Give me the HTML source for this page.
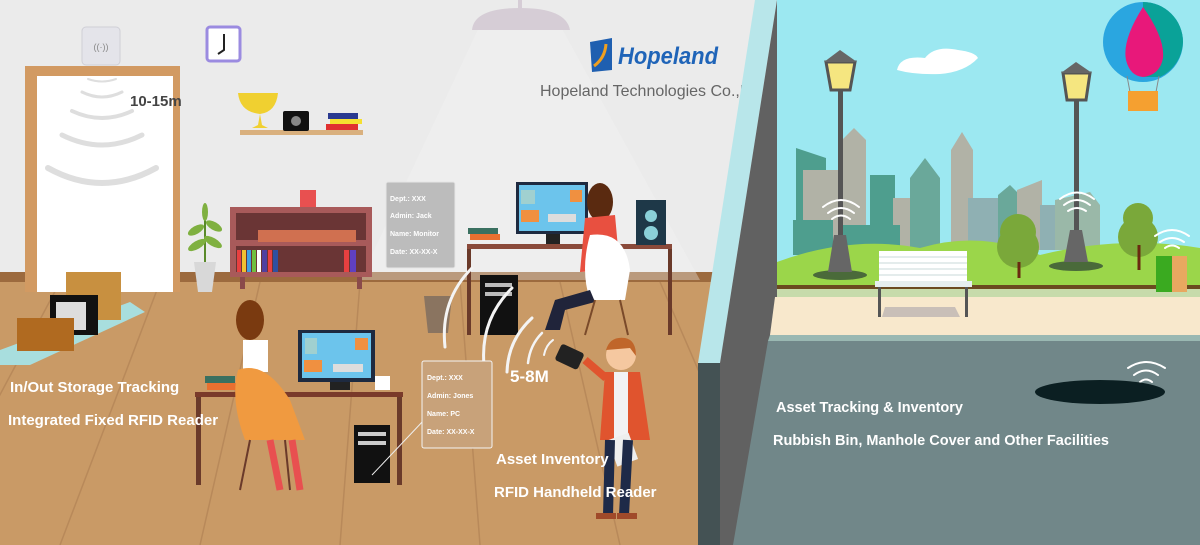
<!DOCTYPE html>
<html><head><meta charset="utf-8"><style>
html,body{margin:0;padding:0;width:1200px;height:545px;overflow:hidden;background:#ebebeb}
svg{display:block}
text{font-family:"Liberation Sans","DejaVu Sans",sans-serif}
</style></head><body>
<svg width="1200" height="545" viewBox="0 0 1200 545" xmlns="http://www.w3.org/2000/svg">
<!-- LEFT ROOM -->
<rect x="0" y="0" width="780" height="545" fill="#ebebeb"/>
<rect x="0" y="280" width="720" height="265" fill="#c99a66"/>
<g stroke="#b8895a" stroke-width="1.5">
<line x1="60" y1="282" x2="-80" y2="545"/><line x1="160" y1="282" x2="60" y2="545"/>
<line x1="260" y1="282" x2="200" y2="545"/><line x1="360" y1="282" x2="340" y2="545"/>
<line x1="460" y1="282" x2="480" y2="545"/><line x1="560" y1="282" x2="620" y2="545"/>
<line x1="660" y1="282" x2="720" y2="420"/>
</g>
<rect x="0" y="272" width="720" height="10" fill="#9c6a3e"/>
<!-- light cone -->
<polygon points="480,25 560,25 700,280 360,280" fill="#f4f4f4" opacity="0.35"/>
<path d="M472,30 Q474,8 520,8 Q566,8 570,30 Z" fill="#d6cdd6"/>
<rect x="518" y="0" width="4" height="10" fill="#d6cdd6"/>
<!-- door -->
<rect x="25" y="66" width="155" height="226" fill="#d29a62"/>
<rect x="37" y="76" width="136" height="216" fill="#ffffff"/>
<g fill="none" stroke="#dedede" stroke-linecap="round">
<path d="M88,79 Q102,84 116,79" stroke-width="2"/>
<path d="M82,92 Q102,102 122,92" stroke-width="3"/>
<path d="M72,111 Q102,125 132,111" stroke-width="4"/>
<path d="M62,135 Q102,155 142,135" stroke-width="5"/>
<path d="M48,168 Q102,198 156,168" stroke-width="6"/>
</g>
<rect x="82" y="27" width="38" height="38" rx="4" fill="#e4e4ea" stroke="#cfcfd6"/>
<text x="101" y="50" font-size="9" fill="#888" text-anchor="middle">((·))</text>
<text x="130" y="106" font-size="15" font-weight="bold" fill="#444">10-15m</text>
<!-- clock -->
<rect x="207" y="27" width="33" height="34" rx="3" fill="#fff" stroke="#9b8be0" stroke-width="3"/>
<path d="M224,34 L224,50 L218,54" stroke="#222" stroke-width="2" fill="none"/>
<!-- shelf -->
<rect x="240" y="130" width="123" height="5" fill="#d9b07e"/>
<path d="M238,93 L278,93 Q276,112 260,114 L262,125 L268,128 L252,128 L258,125 L260,114 Q240,112 238,93Z" fill="#f0d030"/>
<rect x="283" y="111" width="26" height="20" rx="2" fill="#111"/><circle cx="296" cy="121" r="5" fill="#888"/>
<rect x="328" y="113" width="30" height="6" fill="#2a3a90"/><rect x="330" y="119" width="32" height="5" fill="#f5e030"/><rect x="326" y="124" width="32" height="6" fill="#e03030"/>
<!-- logo -->
<path d="M590,42 L612,38 L612,70 L592,72 Z" fill="#1f5fb0"/><path d="M594,66 Q605,58 606,44" stroke="#f0a020" stroke-width="3" fill="none"/>
<text x="618" y="64" font-size="24" font-weight="bold" fill="#1f64b8" font-style="italic" textLength="100" lengthAdjust="spacingAndGlyphs">Hopeland</text>
<text x="540" y="96" font-size="16" fill="#666">Hopeland Technologies Co.,L</text>
<!-- plant -->
<path d="M205,205 L205,262" stroke="#5a8a2a" stroke-width="2"/>
<g fill="#7fb040"><ellipse cx="196" cy="230" rx="9" ry="4" transform="rotate(-30 196 230)"/><ellipse cx="214" cy="226" rx="9" ry="4" transform="rotate(30 214 226)"/><ellipse cx="197" cy="245" rx="10" ry="4" transform="rotate(-30 197 245)"/><ellipse cx="213" cy="242" rx="10" ry="4" transform="rotate(30 213 242)"/><ellipse cx="205" cy="212" rx="3" ry="9"/></g>
<path d="M194,262 L216,262 L212,292 L198,292Z" fill="#d8d8d8"/>
<!-- bookshelf -->
<rect x="230" y="207" width="142" height="70" fill="#a85a5a"/>
<rect x="236" y="213" width="130" height="27" fill="#6a3535"/><rect x="236" y="246" width="130" height="26" fill="#6a3535"/>
<rect x="258" y="230" width="98" height="12" fill="#d07050"/>
<g><rect x="237" y="250" width="4" height="22" fill="#e84040"/><rect x="242" y="250" width="4" height="22" fill="#f0c030"/><rect x="247" y="250" width="4" height="22" fill="#40a0e0"/><rect x="252" y="250" width="4" height="22" fill="#70c040"/><rect x="257" y="250" width="4" height="22" fill="#ffffff"/><rect x="262" y="250" width="5" height="22" fill="#5040a0"/><rect x="268" y="250" width="4" height="22" fill="#e84040"/><rect x="273" y="250" width="5" height="22" fill="#3050a0"/><rect x="344" y="250" width="5" height="22" fill="#e84040"/><rect x="350" y="250" width="6" height="22" fill="#6040c0"/></g>
<rect x="240" y="277" width="5" height="12" fill="#8a4a4a"/><rect x="357" y="277" width="5" height="12" fill="#8a4a4a"/>
<rect x="300" y="190" width="16" height="17" fill="#e85050"/>
<!-- card1 -->
<rect x="386" y="182" width="69" height="86" rx="2" fill="#bcbcbc" stroke="#e6e6e6"/>
<g font-size="7" font-weight="bold" fill="#fff"><text x="390" y="201">Dept.:  XXX</text><text x="390" y="218">Admin:  Jack</text><text x="390" y="236">Name: Monitor</text><text x="390" y="254">Date:  XX-XX-X</text></g>
<!-- right desk -->
<rect x="467" y="244" width="205" height="5" fill="#8a4a3a"/>
<rect x="467" y="249" width="4" height="86" fill="#6a3a2a"/><rect x="668" y="249" width="4" height="86" fill="#6a3a2a"/>
<rect x="516" y="182" width="72" height="52" fill="#1e2a40"/><rect x="519" y="185" width="66" height="46" fill="#6cc4ec"/>
<rect x="521" y="190" width="14" height="14" fill="#a0d0d0"/><rect x="570" y="190" width="12" height="12" fill="#f09040"/><rect x="521" y="210" width="18" height="12" fill="#f09040"/><rect x="548" y="214" width="28" height="8" fill="#ddd"/>
<rect x="546" y="234" width="14" height="10" fill="#222"/>
<rect x="468" y="228" width="30" height="6" fill="#3a7060"/><rect x="470" y="234" width="30" height="6" fill="#e87030"/>
<rect x="636" y="200" width="30" height="45" fill="#1e3848"/><circle cx="651" cy="216" r="6" fill="#8ad0d8"/><circle cx="651" cy="233" r="7" fill="#8ad0d8"/>
<!-- right person -->
<ellipse cx="600" cy="202" rx="13" ry="19" fill="#5a2a10"/>
<path d="M585,218 L615,215 L620,270 L580,272Z" fill="#e85040"/>
<path d="M590,235 Q625,230 630,270 L625,300 L590,300 Q580,270 590,235Z" fill="#ffffff"/>
<path d="M590,290 L555,300 L545,330 L560,330 L565,310 L595,302Z" fill="#20243a"/>
<path d="M595,300 L585,335 M620,300 L628,335" stroke="#7a4a2a" stroke-width="2"/>
<!-- trash & pc -->
<path d="M424,296 L452,296 L448,333 L428,333Z" fill="#8a7460"/>
<rect x="480" y="275" width="38" height="60" fill="#111"/><rect x="485" y="283" width="27" height="4" fill="#bbb"/><rect x="485" y="292" width="27" height="4" fill="#bbb"/>
<g fill="none" stroke="#f4f4f4" stroke-linecap="round"><path d="M445,347 Q440,300 472,268" stroke-width="3"/><path d="M484,365 Q480,320 512,288" stroke-width="3"/><path d="M507,372 Q508,340 532,318" stroke-width="3"/><path d="M528,363 Q530,345 542,333" stroke-width="2.5"/><path d="M544,355 Q546,345 553,340" stroke-width="2"/></g>
<!-- trolley -->
<path d="M0,350 L130,302 L145,312 L30,365 L0,365Z" fill="#a8dede"/>
<rect x="66" y="272" width="55" height="48" fill="#c89040"/>
<rect x="50" y="295" width="48" height="40" fill="#111"/><rect x="56" y="302" width="30" height="28" fill="#ddd"/>
<rect x="17" y="318" width="57" height="33" fill="#b06a20"/>
<!-- left desk & woman -->
<rect x="195" y="392" width="208" height="5" fill="#7a3a2a"/>
<rect x="196" y="397" width="5" height="88" fill="#6a3a2a"/><rect x="397" y="397" width="5" height="88" fill="#6a3a2a"/>
<rect x="298" y="330" width="77" height="52" fill="#1e2a40"/><rect x="302" y="333" width="69" height="45" fill="#6cc4ec"/>
<rect x="305" y="338" width="12" height="16" fill="#a0d0d0"/><rect x="355" y="338" width="13" height="12" fill="#f09040"/><rect x="304" y="360" width="18" height="12" fill="#f09040"/><rect x="333" y="364" width="30" height="8" fill="#ddd"/>
<rect x="330" y="382" width="20" height="8" fill="#222"/>
<rect x="205" y="376" width="30" height="7" fill="#3a7060"/><rect x="207" y="383" width="30" height="7" fill="#e87030"/>
<rect x="375" y="376" width="15" height="14" fill="#fff"/>
<ellipse cx="250" cy="320" rx="14" ry="20" fill="#7a3a10"/>
<rect x="243" y="340" width="25" height="32" fill="#fff"/>
<path d="M238,370 Q265,360 290,400 L305,440 L245,440 Q230,400 238,370Z" fill="#f09a40"/>
<path d="M270,440 L280,490 M292,440 L300,490" stroke="#e85050" stroke-width="7"/>
<path d="M250,440 L240,490 M285,440 L290,490" stroke="#6a3a2a" stroke-width="2"/>
<rect x="354" y="425" width="36" height="58" fill="#111"/><rect x="358" y="432" width="28" height="4" fill="#ccc"/><rect x="358" y="441" width="28" height="4" fill="#ccc"/>
<!-- card2 -->
<line x1="372" y1="475" x2="424" y2="420" stroke="#eee"/>
<rect x="422" y="361" width="70" height="87" rx="2" fill="#c8a27a" stroke="#f4f4f4"/>
<g font-size="7" font-weight="bold" fill="#fff"><text x="427" y="380">Dept.:  XXX</text><text x="427" y="398">Admin:  Jones</text><text x="427" y="416">Name:  PC</text><text x="427" y="434">Date:  XX-XX-X</text></g>
<!-- handheld person -->
<circle cx="621" cy="355" r="15" fill="#f5c8a0"/><path d="M606,350 Q610,336 625,338 Q636,340 636,356 L630,348Z" fill="#c0662a"/>
<rect x="557" y="348" width="25" height="18" rx="3" fill="#222" transform="rotate(25 570 357)"/>
<path d="M605,372 L640,372 L650,440 L600,440Z" fill="#e0542e"/>
<rect x="614" y="372" width="14" height="68" fill="#f2f2f4"/>
<path d="M606,378 L585,360" stroke="#e0542e" stroke-width="8"/>
<rect x="612" y="436" width="22" height="28" fill="#eee" transform="rotate(-20 622 450)"/>
<path d="M610,440 L608,515 M628,440 L624,515" stroke="#1e2a48" stroke-width="10"/>
<rect x="596" y="513" width="20" height="6" fill="#a04a2a"/><rect x="617" y="513" width="20" height="6" fill="#a04a2a"/>
<!-- left texts -->
<g font-weight="bold" fill="#fff">
<text x="10" y="392" font-size="15">In/Out Storage Tracking</text>
<text x="8" y="425" font-size="15">Integrated Fixed RFID Reader</text>
<text x="510" y="382" font-size="17">5-8M</text>
<text x="496" y="464" font-size="15">Asset Inventory</text>
<text x="494" y="497" font-size="15">RFID Handheld Reader</text>
</g>
<!-- DIVIDER -->
<polygon points="755,0 777,0 720,363 698,363" fill="#b8e6ea"/>
<polygon points="698,363 720,363 720,545 698,545" fill="#445254"/>
<polygon points="777,0 790,0 790,545 720,545 720,363" fill="#616161"/>
<!-- RIGHT SCENE -->
<polygon points="777,0 1200,0 1200,285 777,285" fill="#9ce8f1"/>
<path d="M897,70 Q900,55 925,58 Q935,45 958,50 Q975,52 978,58 Q965,72 940,74 Q915,75 897,70Z" fill="#fff"/>
<!-- city -->
<g>
<polygon points="796,148 826,158 826,250 796,250" fill="#4e9e8e"/>
<rect x="803" y="170" width="35" height="80" fill="#b1b2a6"/>
<rect x="842" y="140" width="24" height="110" fill="#b1b2a6"/><polygon points="842,140 854,128 866,140" fill="#b1b2a6"/>
<rect x="870" y="175" width="25" height="75" fill="#4e9e8e"/>
<rect x="893" y="198" width="30" height="55" fill="#b1b2a6"/>
<polygon points="910,178 925,158 940,178 940,250 910,250" fill="#6aa89a"/>
<rect x="951" y="150" width="22" height="100" fill="#b1b2a6"/><polygon points="951,150 962,132 973,150" fill="#b1b2a6"/>
<rect x="968" y="198" width="30" height="55" fill="#8fb0b3"/>
<polygon points="998,195 1010,185 1020,195 1020,250 998,250" fill="#6aa89a"/>
<polygon points="1017,190 1042,180 1042,250 1017,250" fill="#b1b2a6"/>
<rect x="1040" y="205" width="40" height="45" fill="#8fb0b3"/>
<polygon points="1055,200 1090,192 1100,205 1100,250 1055,250" fill="#9ab8a8"/>
<rect x="793" y="220" width="40" height="35" fill="#4e9e8e"/>
<rect x="840" y="225" width="60" height="30" fill="#4e9e8e"/>
</g>
<path d="M777,262 Q850,235 920,248 Q980,230 1040,255 Q1120,235 1200,248 L1200,287 L777,287Z" fill="#9bd64a"/>
<rect x="777" y="285" width="423" height="4" fill="#6b4a20"/>
<rect x="777" y="289" width="423" height="8" fill="#c7dbab"/>
<polygon points="775,297 1200,297 1200,335 770,335" fill="#f8e8cc"/>
<polygon points="770,335 1200,335 1200,341 768,341" fill="#9ab8b2"/>
<polygon points="768,341 1200,341 1200,545 733,545" fill="#718789"/>
<!-- trees -->
<circle cx="1018" cy="232" r="18" fill="#7aa83a"/><circle cx="1018" cy="247" r="21" fill="#7aa83a"/><path d="M1019,262 L1019,278" stroke="#6a2a10" stroke-width="3"/>
<circle cx="1138" cy="218" r="15" fill="#7aa83a"/><circle cx="1138" cy="237" r="20" fill="#7aa83a"/><path d="M1139,245 L1139,270" stroke="#6a2a10" stroke-width="3"/>
<!-- bench -->
<rect x="879" y="251" width="88" height="30" fill="#fff"/>
<g stroke="#c8d8d8"><line x1="879" y1="257" x2="967" y2="257"/><line x1="879" y1="263" x2="967" y2="263"/><line x1="879" y1="269" x2="967" y2="269"/><line x1="879" y1="275" x2="967" y2="275"/></g>
<rect x="875" y="281" width="97" height="6" fill="#e6eeee"/>
<rect x="878" y="287" width="3" height="30" fill="#555"/><rect x="965" y="287" width="3" height="30" fill="#555"/>
<polygon points="882,317 960,317 955,307 885,307" fill="#c9bfb8"/>
<!-- lamps -->
<g>
<ellipse cx="840" cy="275" rx="27" ry="5" fill="#4a6a3a"/>
<polygon points="828,272 852,272 846,235 834,235" fill="#666"/>
<rect x="838" y="90" width="5" height="145" fill="#555"/>
<polygon points="826,62 855,62 850,90 831,90" fill="#f5e680" stroke="#555" stroke-width="3"/>
<polygon points="824,62 840,50 857,62" fill="#666"/>
<ellipse cx="1076" cy="266" rx="27" ry="5" fill="#4a6a3a"/>
<polygon points="1064,262 1088,262 1082,230 1070,230" fill="#666"/>
<rect x="1074" y="100" width="5" height="130" fill="#555"/>
<polygon points="1063,73 1090,73 1086,100 1067,100" fill="#f5e680" stroke="#555" stroke-width="3"/>
<polygon points="1061,73 1076,62 1092,73" fill="#666"/>
</g>
<!-- bin -->
<rect x="1156" y="256" width="16" height="36" fill="#3aaa20"/><rect x="1172" y="256" width="15" height="36" fill="#e8a860"/>
<!-- wifi -->
<g fill="none" stroke="#fff" stroke-width="2" stroke-linecap="round">
<path d="M828,213 Q841,203 854,213"/><path d="M823,207 Q841,193 859,207"/><path d="M832,219 Q841,212 850,219"/>
<path d="M1064,205 Q1077,195 1090,205"/><path d="M1060,199 Q1077,186 1094,199"/><path d="M1068,211 Q1077,205 1086,211"/>
<path d="M1160,242 Q1172,234 1184,242"/><path d="M1155,236 Q1172,224 1189,236"/><path d="M1165,248 Q1172,243 1179,248"/>
<path d="M1134,375 Q1146,366 1158,375"/><path d="M1128,368 Q1146,356 1165,368"/><path d="M1140,382 Q1146,377 1152,382"/>
</g>
<!-- manhole -->
<ellipse cx="1100" cy="392" rx="65" ry="12" fill="#0b1f22"/>
<!-- balloon -->
<circle cx="1143" cy="42" r="40" fill="#2aa6e0"/>
<path d="M1143,2 A40,40 0 0,1 1183,42 A40,40 0 0,1 1160,77 L1143,77 Z" fill="#0aa298"/>
<path d="M1143,7 Q1122,40 1126,60 Q1130,76 1143,77 Q1160,75 1163,58 Q1165,38 1143,7Z" fill="#e8187a"/>
<g stroke="#888"><line x1="1127" y1="76" x2="1130" y2="92"/><line x1="1159" y1="76" x2="1156" y2="92"/></g>
<rect x="1128" y="91" width="30" height="20" fill="#f5a030"/>
<!-- right texts -->
<g font-weight="bold" fill="#fff">
<text x="776" y="412" font-size="14.5">Asset Tracking &amp; Inventory</text>
<text x="773" y="445" font-size="14.5">Rubbish Bin, Manhole Cover and Other Facilities</text>
</g>
</svg>
</body></html>
